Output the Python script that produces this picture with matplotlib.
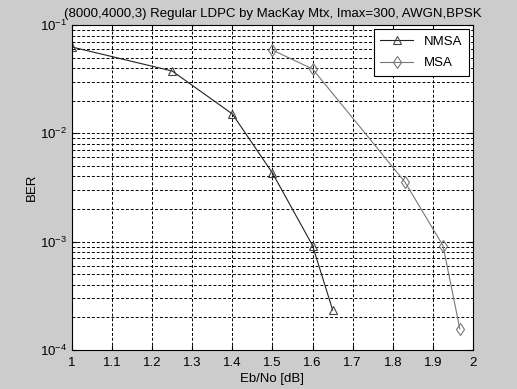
import numpy as np
import matplotlib
matplotlib.use('Agg')
import matplotlib.pyplot as plt
from matplotlib.ticker import LogLocator

plt.rcParams['font.family'] = ['Liberation Sans', 'DejaVu Sans']
plt.rcParams['mathtext.default'] = 'regular'

# BER curves
ebno_nmsa = [1.0, 1.25, 1.4, 1.5, 1.6, 1.65]
ber_nmsa = [0.0627, 0.0376, 0.0151, 0.0043, 0.00092, 0.000234]
ebno_msa = [1.5, 1.6, 1.83, 1.925, 1.967]
ber_msa = [0.0587, 0.0393, 0.00356, 0.00092, 0.000157]
xticks = [1, 1.1, 1.2, 1.3, 1.4, 1.5, 1.6, 1.7, 1.8, 1.9, 2]
xticklabels = ['1', '1.1', '1.2', '1.3', '1.4', '1.5', '1.6', '1.7', '1.8', '1.9', '2']

fig = plt.figure(figsize=(5.17, 3.89), dpi=100, facecolor='#cccccc')
ax = fig.add_axes([0.139, 0.1003, 0.776, 0.8354])
ax.set_facecolor('white')

ax.semilogy(ebno_nmsa, ber_nmsa, color='#222222', lw=0.8, marker='^',
            mfc='none', mec='#444444', ms=6, mew=0.8, label='NMSA')
ax.semilogy(ebno_msa, ber_msa, color='#777777', lw=0.8, marker='d',
            mfc='none', mec='#777777', ms=6, mew=0.8, label='MSA')

ax.set_xlim(1, 2)
ax.set_ylim(1e-4, 1e-1)
ax.set_xticks(xticks)
ax.set_xticklabels(xticklabels)
ax.yaxis.set_major_locator(LogLocator(base=10, numticks=10))
ax.yaxis.set_minor_locator(LogLocator(base=10, subs=np.arange(2, 10), numticks=20))

ax.grid(True, which='major', linestyle=(0, (3, 2)), color='black', lw=0.7)
ax.grid(True, which='minor', axis='y', linestyle=(0, (3, 2)), color='black', lw=0.7)
ax.tick_params(which='both', direction='in', top=True, right=True, labelsize=9.5,
               colors='black')
ax.tick_params(axis='x', pad=5)
ax.tick_params(which='minor', length=0)
for s in ax.spines.values():
    s.set_color('black')
    s.set_linewidth(0.8)

ax.set_xlabel('Eb/No [dB]', fontsize=9.5, labelpad=3)
ax.set_ylabel('BER', fontsize=9.5)
ax.yaxis.set_label_coords(-0.085, 0.5)
ax.set_title('(8000,4000,3) Regular LDPC by MacKay Mtx, Imax=300, AWGN,BPSK', fontsize=9.5)

leg = ax.legend(loc='upper right', fontsize=9.5, fancybox=False, framealpha=1,
                edgecolor='black', borderaxespad=0.3, handlelength=2.5,
                labelspacing=0.7, borderpad=0.5)
leg.get_frame().set_linewidth(0.8)

fig.savefig('out.png', dpi=100, facecolor=fig.get_facecolor())
